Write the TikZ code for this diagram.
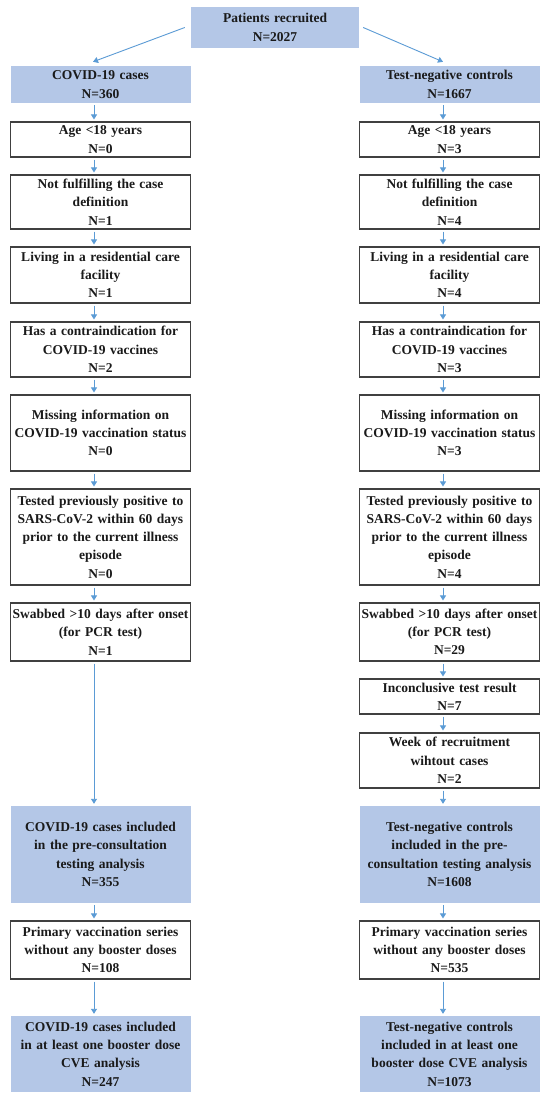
\documentclass[tikz,border=0pt]{standalone}
\usepackage{fontspec}
\setmainfont{Liberation Serif}
\usetikzlibrary{arrows.meta}
\definecolor{boxblue}{HTML}{B4C7E7}
\definecolor{arrblue}{HTML}{5B9BD5}
\definecolor{edge}{HTML}{404040}
\definecolor{ink}{HTML}{1A1A1A}
\newcommand\myarrow[2]{\draw[arr] ([xshift=-6.5pt]#1.south) -- ([xshift=-6.5pt]#2.north);}
\begin{document}
\begin{tikzpicture}[x=1pt,y=-1pt,
  base/.style={rectangle, align=center, inner xsep=0pt, inner ysep=0pt,
    text width=180pt, minimum width=180pt, text=ink,
    font=\fontsize{13.5}{18.3}\selectfont\bfseries},
  wbox/.style={base, draw=edge, line width=1.1pt, fill=white},
  bbox/.style={base, fill=boxblue},
  arr/.style={draw=arrblue, line width=0.9pt, shorten <=2pt, shorten >=2pt,
    -{Triangle[width=6pt,length=5pt]}}]
\useasboundingbox (0,0) rectangle (550,1105);
\fill[white] (0,0) rectangle (550,1105);

\node[bbox, text width=168pt, minimum width=168pt, minimum height=41pt] (top) at (275,27.5) {Patients recruited\\N=2027};

% left column
\node[bbox, minimum height=37pt] (L0) at (100.5,84.5) {COVID-19 cases\\N=360};
\node[wbox, minimum height=35pt] (L1) at (100.5,139.5) {Age <18 years\\N=0};
\node[wbox, minimum height=54pt] (L2) at (100.5,202) {Not fulfilling the case\\definition\\N=1};
\node[wbox, minimum height=56pt] (L3) at (100.5,275) {Living in a residential care\\facility\\N=1};
\node[wbox, minimum height=55pt] (L4) at (100.5,349.5) {Has a contraindication for\\COVID-19 vaccines\\N=2};
\node[wbox, minimum height=76pt] (L5) at (100.5,433) {Missing information on\\COVID-19 vaccination status\\N=0};
\node[wbox, minimum height=96pt] (L6) at (100.5,537) {Tested previously positive to\\SARS-CoV-2 within 60 days\\prior to the current illness\\episode\\N=0};
\node[wbox, minimum height=58pt] (L7) at (100.5,632) {Swabbed >10 days after onset\\(for PCR test)\\N=1};
\node[bbox, minimum height=97pt] (L8) at (100.5,854.5) {COVID-19 cases included\\in the pre-consultation\\testing analysis\\N=355};
\node[wbox, minimum height=58pt] (L9) at (100.5,950) {Primary vaccination series\\without any booster doses\\N=108};
\node[bbox, minimum height=76pt] (L10) at (100.5,1054) {COVID-19 cases included\\in at least one booster dose\\CVE analysis\\N=247};

% right column
\node[bbox, minimum height=37pt] (R0) at (449.5,84.5) {Test-negative controls\\N=1667};
\node[wbox, minimum height=35pt] (R1) at (449.5,139.5) {Age <18 years\\N=3};
\node[wbox, minimum height=54pt] (R2) at (449.5,202) {Not fulfilling the case\\definition\\N=4};
\node[wbox, minimum height=56pt] (R3) at (449.5,275) {Living in a residential care\\facility\\N=4};
\node[wbox, minimum height=55pt] (R4) at (449.5,349.5) {Has a contraindication for\\COVID-19 vaccines\\N=3};
\node[wbox, minimum height=76pt] (R5) at (449.5,433) {Missing information on\\COVID-19 vaccination status\\N=3};
\node[wbox, minimum height=96pt] (R6) at (449.5,537) {Tested previously positive to\\SARS-CoV-2 within 60 days\\prior to the current illness\\episode\\N=4};
\node[wbox, minimum height=58pt] (R7) at (449.5,632) {Swabbed >10 days after onset\\(for PCR test)\\N=29};
\node[wbox, minimum height=35pt] (R7a) at (449.5,696.5) {Inconclusive test result\\N=7};
\node[wbox, minimum height=55pt] (R7b) at (449.5,760.5) {Week of recruitment\\wihtout cases\\N=2};
\node[bbox, minimum height=97pt] (R8) at (449.5,854.5) {Test-negative controls\\included in the pre-\\consultation testing analysis\\N=1608};
\node[wbox, minimum height=58pt] (R9) at (449.5,950) {Primary vaccination series\\without any booster doses\\N=535};
\node[bbox, minimum height=76pt] (R10) at (449.5,1054) {Test-negative controls\\included in at least one\\booster dose CVE analysis\\N=1073};

% connectors
\draw[arr, shorten <=0pt, shorten >=0pt] ([xshift=-6pt]top.west) -- ([xshift=-7.5pt,yshift=4pt]L0.north);
\draw[arr, shorten <=0pt, shorten >=0pt] ([xshift=4pt]top.east) -- ([xshift=-6.5pt,yshift=4pt]R0.north);
\myarrow{L0}{L1}\myarrow{L1}{L2}\myarrow{L2}{L3}\myarrow{L3}{L4}\myarrow{L4}{L5}
\myarrow{L5}{L6}\myarrow{L6}{L7}\myarrow{L7}{L8}\myarrow{L8}{L9}\myarrow{L9}{L10}
\myarrow{R0}{R1}\myarrow{R1}{R2}\myarrow{R2}{R3}\myarrow{R3}{R4}\myarrow{R4}{R5}
\myarrow{R5}{R6}\myarrow{R6}{R7}\myarrow{R7}{R7a}\myarrow{R7a}{R7b}\myarrow{R7b}{R8}
\myarrow{R8}{R9}\myarrow{R9}{R10}
\end{tikzpicture}
\end{document}
